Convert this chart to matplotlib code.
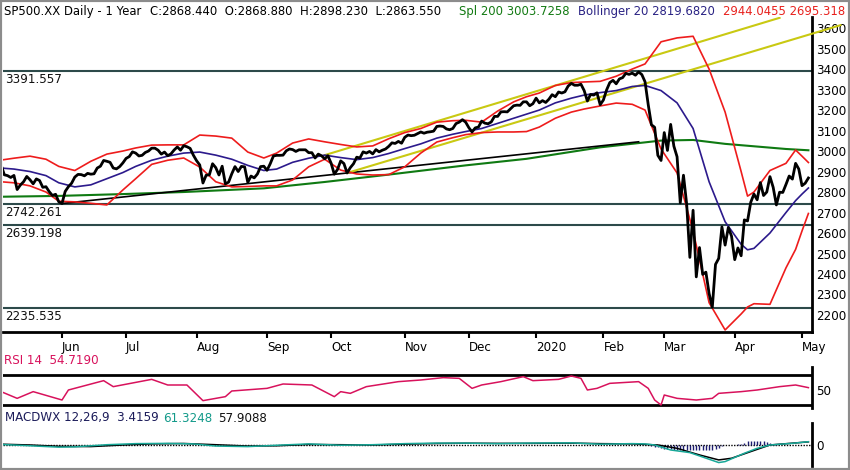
import numpy as np
import pandas as pd
import matplotlib
matplotlib.use("Agg")
import matplotlib.pyplot as plt
from matplotlib.patches import Rectangle

# ---------------- data ----------------
HOLIDAYS = ["2019-05-27", "2019-07-04", "2019-09-02", "2019-11-28", "2019-12-25",
            "2020-01-01", "2020-01-20", "2020-02-17", "2020-04-10", "2020-05-25"]
FIRST_DAY = "2019-05-06"

close = [
    # May 2019
    2932, 2884, 2880, 2871, 2881, 2812, 2834, 2850, 2876, 2860, 2840, 2864, 2856, 2823, 2826, 2802, 2783, 2789, 2752,
    # Jun
    2744, 2803, 2826, 2843, 2873, 2886, 2885, 2879, 2891, 2887, 2889, 2917, 2926, 2954, 2950, 2945, 2917, 2913, 2924, 2942,
    # Jul
    2964, 2973, 2996, 2990, 2976, 2979, 2993, 3000, 3014, 3014, 3004, 2985, 2995, 2977, 2986, 3005, 3020, 3004, 3026, 3021, 3013, 2980,
    # Aug
    2953, 2932, 2844, 2882, 2884, 2938, 2919, 2883, 2926, 2840, 2848, 2889, 2924, 2900, 2925, 2923, 2847, 2878, 2869, 2888, 2924, 2926,
    # Sep
    2906, 2938, 2976, 2979, 2979, 2980, 3001, 3010, 3007, 2998, 3006, 3006, 3006, 2992, 2992, 2966, 2985, 2977, 2962, 2977,
    # Oct
    2941, 2887, 2910, 2952, 2939, 2893, 2919, 2938, 2970, 2966, 2996, 2990, 2998, 2986, 3007, 2996, 3004, 3010, 3023, 3040, 3037, 3047, 3038,
    # Nov
    3067, 3078, 3075, 3077, 3085, 3093, 3087, 3092, 3094, 3097, 3120, 3122, 3120, 3108, 3104, 3110, 3134, 3141, 3153, 3141,
    # Dec
    3114, 3093, 3113, 3117, 3146, 3136, 3133, 3142, 3169, 3169, 3191, 3192, 3191, 3206, 3221, 3224, 3223, 3240, 3240, 3221, 3231,
    # Jan 2020
    3258, 3235, 3246, 3237, 3253, 3275, 3265, 3288, 3283, 3289, 3317, 3330, 3321, 3321, 3326, 3295, 3244, 3276, 3273, 3284, 3226,
    # Feb
    3249, 3298, 3334, 3345, 3328, 3352, 3358, 3379, 3374, 3380, 3370, 3386, 3373, 3338, 3226, 3128, 3116, 2979, 2954,
    # Mar
    3090, 3003, 3130, 3024, 2972, 2747, 2882, 2741, 2481, 2711, 2386, 2529, 2398, 2409, 2305, 2237, 2447, 2476, 2630, 2541, 2627, 2585,
    # Apr
    2470, 2527, 2489, 2664, 2659, 2750, 2790, 2762, 2846, 2783, 2800, 2875, 2823, 2737, 2799, 2798, 2837, 2878, 2863, 2940, 2912,
    # May
    2831, 2843, 2868.44,
]

band_dates = [
    "2019-05-06", "2019-05-10", "2019-05-17", "2019-05-24", "2019-05-31",
    "2019-06-07", "2019-06-14", "2019-06-21", "2019-06-28",
    "2019-07-05", "2019-07-12", "2019-07-19", "2019-07-26",
    "2019-08-02", "2019-08-09", "2019-08-16", "2019-08-23", "2019-08-30",
    "2019-09-06", "2019-09-13", "2019-09-20", "2019-09-27",
    "2019-10-04", "2019-10-11", "2019-10-18", "2019-10-25",
    "2019-11-01", "2019-11-08", "2019-11-15", "2019-11-22", "2019-11-29",
    "2019-12-06", "2019-12-13", "2019-12-20", "2019-12-27",
    "2020-01-03", "2020-01-10", "2020-01-17", "2020-01-24", "2020-01-31",
    "2020-02-07", "2020-02-14", "2020-02-21", "2020-02-28",
    "2020-03-06", "2020-03-13", "2020-03-20", "2020-03-27",
    "2020-04-03", "2020-04-07", "2020-04-09", "2020-04-17", "2020-04-24", "2020-04-29",
    "2020-05-01", "2020-05-05",
]
boll_upper = [2956, 2965, 2975, 2960, 2925,
              2905, 2950, 2985, 3000,
              3015, 3029, 3030, 3030,
              3078, 3073, 3063, 2995, 2966,
              2990, 3039, 3059, 3045,
              3032, 3020, 3025, 3060,
              3090, 3110, 3141, 3148, 3150,
              3141, 3195, 3240, 3265,
              3283, 3320, 3334, 3337, 3340,
              3365, 3400, 3425, 3533,
              3552, 3560, 3400, 3190,
              2900, 2780, 2800, 2905, 2940, 3005,
              2975, 2944.0455]
boll_mid = [2917, 2912, 2900, 2880, 2845,
            2825, 2835, 2865, 2895,
            2925, 2955, 2975, 2990,
            2995, 2980, 2960, 2930, 2905,
            2912, 2945, 2965, 2980,
            2968, 2958, 2968, 2988,
            3012, 3035, 3063, 3082, 3095,
            3110, 3135, 3160, 3180,
            3200, 3235, 3258, 3273, 3285,
            3295, 3315, 3320, 3295,
            3235, 3110, 2850, 2655,
            2545, 2518, 2525, 2600, 2700, 2758,
            2790, 2819.682]
boll_lower = [2850, 2845, 2830, 2800, 2755,
              2752, 2745, 2737, 2810,
              2865, 2935, 2955, 2966,
              2922, 2850, 2825, 2827, 2830,
              2830, 2859, 2923, 2960,
              2907, 2888, 2883, 2885,
              2923, 2990, 3044, 3065, 3080,
              3090, 3093, 3093, 3095,
              3117, 3160, 3190, 3205, 3220,
              3234, 3228, 3200, 3010,
              2893, 2610, 2260, 2127,
              2205, 2239, 2255, 2252, 2430, 2520,
              2610, 2695.318]

sma_dates = ["2019-05-06", "2019-05-31", "2019-06-28", "2019-07-26", "2019-08-30", "2019-09-27",
             "2019-10-25", "2019-11-29", "2019-12-27", "2020-01-31", "2020-02-28", "2020-03-13",
             "2020-03-27", "2020-04-24", "2020-05-05"]
sma200 = [2777, 2781, 2790, 2800, 2818, 2849, 2885, 2930, 2962, 3018, 3051, 3054, 3035, 3010, 3003.7258]

levels = [3391.557, 2742.261, 2639.198, 2235.535]
level_labels = ["3391.557", "2742.261", "2639.198", "2235.535"]

trend_dates = ["2019-06-03", "2020-02-19"]
trend_vals = [2744, 3045]
chan_up_dates = ["2019-09-27", "2020-04-22"]
chan_up_vals = [2980, 3650]
chan_lo_dates = ["2019-10-08", "2020-05-19"]
chan_lo_vals = [2893, 3614]

rsi_dates = ["2019-05-06", "2019-05-13", "2019-05-20", "2019-06-03", "2019-06-05", "2019-06-20", "2019-06-25",
             "2019-07-12", "2019-07-19", "2019-07-29", "2019-08-05", "2019-08-14", "2019-08-16", "2019-09-03",
             "2019-09-10", "2019-09-23", "2019-10-02", "2019-10-04", "2019-10-09", "2019-10-16", "2019-10-30",
             "2019-11-08", "2019-11-19", "2019-11-26", "2019-12-03", "2019-12-06", "2019-12-16", "2019-12-26",
             "2019-12-31", "2020-01-13", "2020-01-17", "2020-01-23", "2020-01-27", "2020-01-30", "2020-02-05",
             "2020-02-19", "2020-02-24", "2020-02-26", "2020-02-28", "2020-03-02", "2020-03-06", "2020-03-16",
             "2020-03-23", "2020-03-25", "2020-04-03", "2020-04-13", "2020-04-22", "2020-04-29", "2020-05-05"]
rsi = [46.7, 33.3, 46.7, 30, 50, 68.7, 56.7, 71.3, 60, 60, 28.7, 36.7, 48, 53.3, 62, 60, 36.7, 46.7, 43.3,
       56.7, 66.7, 70, 74.7, 73.3, 53.3, 60, 66.7, 76.7, 68.7, 71.3, 78, 73.3, 50, 53.3, 63.3, 66.7, 53.3,
       30, 20, 40, 33.3, 30, 33.3, 43.3, 46.7, 50, 56.7, 60, 54.719]

macd_dates = ["2019-05-06", "2019-05-17", "2019-05-31", "2019-06-07", "2019-06-21", "2019-07-05", "2019-07-19",
              "2019-07-31", "2019-08-09", "2019-08-23", "2019-09-06", "2019-09-20", "2019-10-04", "2019-10-18",
              "2019-11-01", "2019-11-15", "2019-11-29", "2019-12-13", "2019-12-27", "2020-01-17", "2020-01-31",
              "2020-02-14", "2020-02-21", "2020-02-26", "2020-03-04", "2020-03-12", "2020-03-25", "2020-03-27",
              "2020-04-06", "2020-04-13", "2020-04-17", "2020-04-28", "2020-05-05"]
macd = [10, -15, -40, -35, 5, 25, 30, 20, -20, -30, -5, 20, -5, 5, 25, 35, 35, 25, 35, 40, 15, 25, 20, 0,
        -93, -142, -327, -309, -154, -62, 0, 31, 61.3248]
sig_dates = ["2019-05-06", "2019-05-17", "2019-05-31", "2019-06-14", "2019-06-28", "2019-07-12", "2019-07-26",
             "2019-08-09", "2019-08-23", "2019-09-06", "2019-09-20", "2019-10-04", "2019-10-18", "2019-11-01",
             "2019-11-15", "2019-11-29", "2019-12-13", "2019-12-27", "2020-01-17", "2020-01-31", "2020-02-14",
             "2020-02-27", "2020-03-06", "2020-03-17", "2020-03-25", "2020-03-31", "2020-04-08", "2020-04-17",
             "2020-05-05"]
signal = [15, 0, -25, -30, 0, 20, 28, 5, -20, -15, 10, 5, 0, 15, 28, 33, 30, 30, 35, 25, 20, 0, -62, -185,
          -278, -247, -123, 0, 57.9088]
hist_dates = ["2020-02-24", "2020-02-25", "2020-02-26", "2020-02-27", "2020-02-28",
              "2020-03-02", "2020-03-03", "2020-03-04", "2020-03-05", "2020-03-06", "2020-03-09", "2020-03-10",
              "2020-03-11", "2020-03-12", "2020-03-13", "2020-03-16", "2020-03-17", "2020-03-18", "2020-03-19",
              "2020-03-20", "2020-03-23", "2020-03-24", "2020-03-25", "2020-03-26", "2020-03-27", "2020-03-30",
              "2020-03-31",
              "2020-04-01", "2020-04-02", "2020-04-03", "2020-04-06", "2020-04-07", "2020-04-08", "2020-04-09",
              "2020-04-13", "2020-04-14", "2020-04-15", "2020-04-16", "2020-04-17", "2020-04-20", "2020-04-21",
              "2020-04-22", "2020-04-23", "2020-04-24", "2020-04-27", "2020-04-28", "2020-04-29", "2020-04-30",
              "2020-05-01", "2020-05-04", "2020-05-05"]
hist = [-5, -15, -30, -45, -60,
        -70, -78, -82, -85, -88, -90, -92, -93, -93, -93, -93, -92, -90, -88, -85, -85, -75, -60, -20, -8, -3, 2,
        5, 10, 20, 45, 65, 78, 82, 82, 78, 70, 55, 40, 20, 10, 6, 4, 4, 5, 5, 4, 3, 3, 3, 3.4159]

month_ticks = ["2019-06-03", "2019-07-01", "2019-08-01", "2019-09-03", "2019-10-01", "2019-11-01",
               "2019-12-02", "2020-01-02", "2020-02-03", "2020-03-02", "2020-04-01", "2020-05-01"]
month_labels = ["Jun", "Jul", "Aug", "Sep", "Oct", "Nov", "Dec", "2020", "Feb", "Mar", "Apr", "May"]

# ---------------- calendar / positions ----------------
cal = pd.bdate_range(FIRST_DAY, "2020-06-30", freq="C", holidays=HOLIDAYS)
POS = {d.strftime("%Y-%m-%d"): i for i, d in enumerate(cal)}


def X(dates):
    return np.array([POS[d] for d in dates], dtype=float)


x_close = np.arange(len(close), dtype=float)

W, H = 850, 470
FS = 8.6
HFS = 8.4
plt.rcParams["font.family"] = ["DejaVu Sans"]

fig = plt.figure(figsize=(W / 100, H / 100), dpi=100)
fig.patch.set_facecolor("white")


def rect(x0, y0, x1, y1):
    return [x0 / W, 1 - y1 / H, (x1 - x0) / W, (y1 - y0) / H]


# pixel layout
ppd = (802 - 62) / (POS["2020-05-01"] - POS["2019-06-03"])
xl = POS["2019-06-03"] - (62 - 3) / ppd
xr = POS["2019-06-03"] + (812 - 62) / ppd

ax = fig.add_axes(rect(3, 17, 812, 332))
ax_r = fig.add_axes(rect(3, 367, 812, 408))
ax_m = fig.add_axes(rect(3, 423, 812, 466))

for a in (ax, ax_r, ax_m):
    a.set_xlim(xl, xr)
    a.set_facecolor("none")
    for s in ("top", "left", "bottom"):
        a.spines[s].set_visible(False)
    a.spines["right"].set_linewidth(2)
    a.spines["right"].set_color("black")
    a.yaxis.tick_right()
    a.tick_params(axis="y", length=0, pad=3, labelsize=FS, labelcolor="black")

# ---------------- main panel ----------------
ax.set_ylim(2117, 3654)
ax.spines["bottom"].set_visible(True)
ax.spines["bottom"].set_linewidth(2)
ax.set_yticks(np.arange(2200, 3601, 100))

level_color = "#2d4a4a"
for lv, lb in zip(levels, level_labels):
    ax.axhline(lv, color=level_color, lw=1.5, zorder=2)
    ax.annotate(lb, xy=(0, lv), xycoords=ax.get_yaxis_transform(), xytext=(1.5, -6.2),
                textcoords="offset points", ha="left", va="center", fontsize=FS, color="#111111")

ax.plot(X(sma_dates), sma200, color="#0f7a12", lw=1.5, zorder=3)
ax.plot(X(trend_dates), trend_vals, color="black", lw=1.2, zorder=3)
ax.plot(X(chan_up_dates), chan_up_vals, color="#c9c912", lw=1.5, zorder=3)
ax.plot(X(chan_lo_dates), chan_lo_vals, color="#c9c912", lw=1.5, zorder=3, clip_on=False)
ax.plot(X(band_dates), boll_upper, color="#ee1c1c", lw=1.2, zorder=4)
ax.plot(X(band_dates), boll_lower, color="#ee1c1c", lw=1.2, zorder=4)
ax.plot(X(band_dates), boll_mid, color="#2c1a8c", lw=1.2, zorder=4)
ax.plot(x_close, close, color="black", lw=2, zorder=6)

ax.set_xticks(X(month_ticks))
ax.set_xticklabels(month_labels)
ax.tick_params(axis="x", direction="out", length=4.3, width=1.5, pad=2.5, labelsize=FS)
for lbl in ax.get_xticklabels():
    lbl.set_ha("left")

# ---------------- RSI panel ----------------
ax_r.set_ylim(14, 96)
ax_r.set_xticks([])
ax_r.set_yticks([50])
ax_r.axhline(80, color="black", lw=2)
ax_r.axhline(20, color="black", lw=2)
ax_r.plot(X(rsi_dates), rsi, color="#d8125c", lw=1.1)

# ---------------- MACD panel ----------------
ax_m.set_ylim(-391, 409)
ax_m.set_xticks([])
ax_m.set_yticks([0])
ax_m.axhline(0, color="black", lw=1.0, ls=(0, (1, 1)))
ax_m.vlines(X(hist_dates), 0, hist, color="#1c1c70", lw=1.0)
ax_m.plot(X(sig_dates), signal, color="black", lw=1.1)
ax_m.plot(X(macd_dates), macd, color="#18a898", lw=1.1)

# ---------------- texts ----------------
def ftxt(xp, yp, s, color, fs=FS):
    fig.text(xp / W, 1 - yp / H, s, ha="left", va="center", fontsize=fs, color=color)


ftxt(4, 11.5, "SP500.XX Daily - 1 Year", "black", HFS)
ftxt(150, 11.5, "C:2868.440  O:2868.880  H:2898.230  L:2863.550", "black", HFS)
ftxt(459, 11.5, "Spl 200 3003.7258", "#137a13", HFS)
ftxt(578, 11.5, "Bollinger 20 2819.6820", "#2a2384", HFS)
ftxt(723, 11.5, "2944.0455 2695.318", "#e8201c", HFS)
ftxt(4, 361, "RSI 14  54.7190", "#d8125c")
ftxt(5, 418, "MACDWX 12,26,9  3.4159", "#1c1c5a")
ftxt(163, 418, "61.3248", "#139a8a")
ftxt(218, 418, "57.9088", "#111111")

fig.patches.append(Rectangle((0, 0), 1, 1, transform=fig.transFigure, fill=False,
                             edgecolor="#8c8c8c", lw=3))

fig.savefig("out.png", dpi=100)
